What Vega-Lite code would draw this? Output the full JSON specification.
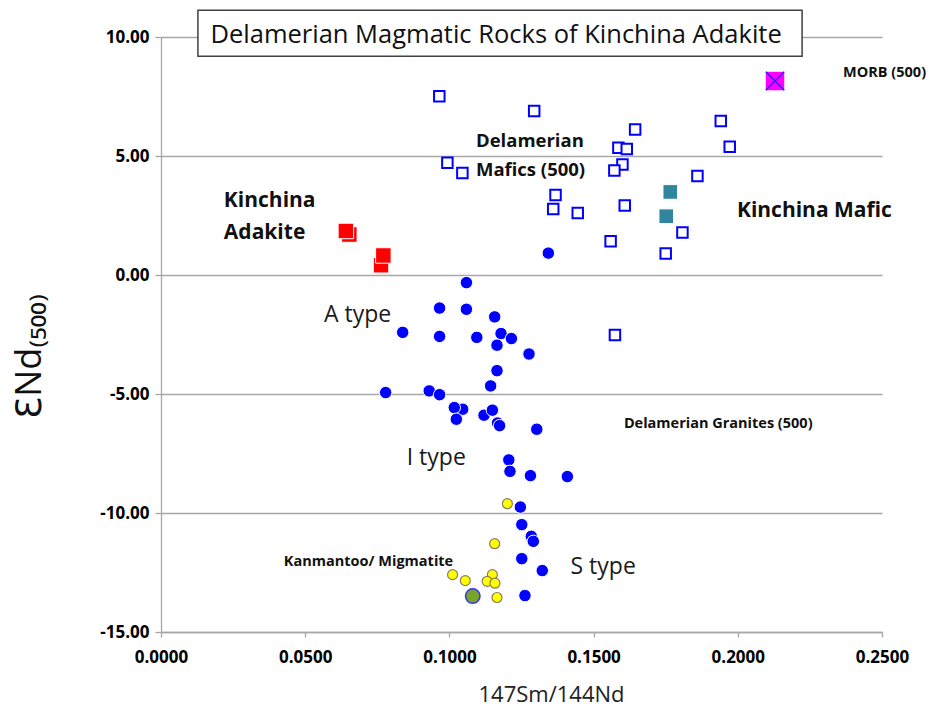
{
  "$schema": "https://vega.github.io/schema/vega-lite/v6.json",
  "width": 721,
  "height": 595,
  "autosize": {"type": "none"},
  "padding": {"left": 161, "top": 37, "right": 51, "bottom": 81},
  "background": "white",
  "config": {"view": {"stroke": null}},
  "datasets": {
    "pts": [
      {"group": "Kanmantoo", "x": 0.1201, "y": -9.61},
      {"group": "Kanmantoo", "x": 0.1157, "y": -11.29},
      {"group": "Kanmantoo", "x": 0.1011, "y": -12.59},
      {"group": "Kanmantoo", "x": 0.1055, "y": -12.84},
      {"group": "Kanmantoo", "x": 0.1149, "y": -12.59},
      {"group": "Kanmantoo", "x": 0.1131, "y": -12.87},
      {"group": "Kanmantoo", "x": 0.1158, "y": -12.95},
      {"group": "Kanmantoo", "x": 0.1165, "y": -13.55},
      {"group": "Granite", "x": 0.1343, "y": 0.92},
      {"group": "Granite", "x": 0.1059, "y": -0.32},
      {"group": "Granite", "x": 0.0966, "y": -1.39},
      {"group": "Granite", "x": 0.1059, "y": -1.44},
      {"group": "Granite", "x": 0.1157, "y": -1.76},
      {"group": "Granite", "x": 0.0838, "y": -2.41},
      {"group": "Granite", "x": 0.0966, "y": -2.58},
      {"group": "Granite", "x": 0.1095, "y": -2.62},
      {"group": "Granite", "x": 0.1179, "y": -2.46},
      {"group": "Granite", "x": 0.1215, "y": -2.67},
      {"group": "Granite", "x": 0.1165, "y": -2.95},
      {"group": "Granite", "x": 0.1276, "y": -3.32},
      {"group": "Granite", "x": 0.1165, "y": -4.02},
      {"group": "Granite", "x": 0.1143, "y": -4.66},
      {"group": "Granite", "x": 0.0779, "y": -4.94},
      {"group": "Granite", "x": 0.0930, "y": -4.87},
      {"group": "Granite", "x": 0.0966, "y": -5.03},
      {"group": "Granite", "x": 0.1046, "y": -5.64},
      {"group": "Granite", "x": 0.1017, "y": -5.57},
      {"group": "Granite", "x": 0.1024, "y": -6.06},
      {"group": "Granite", "x": 0.1120, "y": -5.89},
      {"group": "Granite", "x": 0.1149, "y": -5.68},
      {"group": "Granite", "x": 0.1167, "y": -6.22},
      {"group": "Granite", "x": 0.1174, "y": -6.33},
      {"group": "Granite", "x": 0.1303, "y": -6.48},
      {"group": "Granite", "x": 0.1206, "y": -7.77},
      {"group": "Granite", "x": 0.1210, "y": -8.25},
      {"group": "Granite", "x": 0.1281, "y": -8.43},
      {"group": "Granite", "x": 0.1409, "y": -8.47},
      {"group": "Granite", "x": 0.1246, "y": -9.75},
      {"group": "Granite", "x": 0.1251, "y": -10.49},
      {"group": "Granite", "x": 0.1284, "y": -10.98},
      {"group": "Granite", "x": 0.1291, "y": -11.19},
      {"group": "Granite", "x": 0.1251, "y": -11.92},
      {"group": "Granite", "x": 0.1322, "y": -12.42},
      {"group": "Granite", "x": 0.1262, "y": -13.47},
      {"group": "Green", "x": 0.1081, "y": -13.49},
      {"group": "Mafics", "x": 0.0965, "y": 7.51},
      {"group": "Mafics", "x": 0.1294, "y": 6.89},
      {"group": "Mafics", "x": 0.0993, "y": 4.72},
      {"group": "Mafics", "x": 0.1045, "y": 4.29},
      {"group": "Mafics", "x": 0.1644, "y": 6.11},
      {"group": "Mafics", "x": 0.1586, "y": 5.35},
      {"group": "Mafics", "x": 0.1615, "y": 5.29},
      {"group": "Mafics", "x": 0.1600, "y": 4.64},
      {"group": "Mafics", "x": 0.1572, "y": 4.39},
      {"group": "Mafics", "x": 0.1368, "y": 3.36},
      {"group": "Mafics", "x": 0.1360, "y": 2.77},
      {"group": "Mafics", "x": 0.1445, "y": 2.61},
      {"group": "Mafics", "x": 0.1608, "y": 2.92},
      {"group": "Mafics", "x": 0.1559, "y": 1.42},
      {"group": "Mafics", "x": 0.1750, "y": 0.90},
      {"group": "Mafics", "x": 0.1808, "y": 1.79},
      {"group": "Mafics", "x": 0.1941, "y": 6.47},
      {"group": "Mafics", "x": 0.1972, "y": 5.39},
      {"group": "Mafics", "x": 0.1860, "y": 4.16},
      {"group": "Mafics", "x": 0.1574, "y": -2.52},
      {"group": "Adakite", "x": 0.0653, "y": 1.70},
      {"group": "Adakite", "x": 0.0641, "y": 1.85},
      {"group": "Adakite", "x": 0.0763, "y": 0.41},
      {"group": "Adakite", "x": 0.0771, "y": 0.82},
      {"group": "KMafic", "x": 0.1766, "y": 3.49},
      {"group": "KMafic", "x": 0.1752, "y": 2.47},
      {"group": "MORB", "x": 0.2129, "y": 8.15}
    ],
    "labels": [
      {"kind": "big", "label": "Kinchina", "x": 0.0218, "y": 2.84},
      {"kind": "big", "label": "Adakite", "x": 0.0218, "y": 1.50},
      {"kind": "big", "label": "Kinchina Mafic", "x": 0.1997, "y": 2.42},
      {"kind": "mid", "label": "Delamerian", "x": 0.1092, "y": 5.36},
      {"kind": "mid", "label": "Mafics (500)", "x": 0.1092, "y": 4.14},
      {"kind": "small", "label": "MORB (500)", "x": 0.2365, "y": 8.30},
      {"kind": "small", "label": "Delamerian Granites (500)", "x": 0.1605, "y": -6.44},
      {"kind": "small", "label": "Kanmantoo/ Migmatite", "x": 0.0426, "y": -12.24},
      {"kind": "type", "label": "A type", "x": 0.0565, "y": -1.97},
      {"kind": "type", "label": "I type", "x": 0.0852, "y": -7.99},
      {"kind": "type", "label": "S type", "x": 0.1420, "y": -12.55},
      {"kind": "title", "label": "Delamerian Magmatic Rocks of Kinchina Adakite", "x": 0.1162, "y": 9.75}
    ],
    "box": [
      {"x": 0.0128, "x2": 0.2223, "y": 9.19, "y2": 11.12}
    ]
  },
  "encoding": {
    "x": {
      "field": "x", "type": "quantitative",
      "scale": {"domain": [0, 0.25], "nice": false, "zero": false},
      "axis": {
        "title": "147Sm/144Nd",
        "values": [0, 0.05, 0.1, 0.15, 0.2, 0.25],
        "format": ".4f",
        "grid": false,
        "domainColor": "#a6a6a6", "domainWidth": 1.3,
        "tickColor": "#a6a6a6", "tickWidth": 1.3, "tickSize": 5,
        "labelFont": "Open Sans", "labelFontSize": 17, "labelFontWeight": "bold",
        "labelColor": "black", "labelPadding": 12, "labelFlush": false,
        "titleFont": "Open Sans", "titleFontSize": 22, "titleFontWeight": "normal",
        "titleColor": "#222222", "titleX": 390, "titleY": 69, "titleBaseline": "alphabetic"
      }
    },
    "y": {
      "field": "y", "type": "quantitative",
      "scale": {"domain": [-15, 10], "nice": false, "zero": false},
      "axis": {
        "title": "ƐNd₍₅₀₀₎",
        "values": [-15, -10, -5, 0, 5, 10],
        "labelExpr": "replace(format(datum.value, '.2f'), '\u2212', '-')",
        "grid": true, "gridColor": "#a6a6a6", "gridWidth": 1.3,
        "domainColor": "#a6a6a6", "domainWidth": 1.3,
        "tickColor": "#a6a6a6", "tickWidth": 1.3, "tickSize": 6,
        "labelFont": "Open Sans", "labelFontSize": 17, "labelFontWeight": "bold",
        "labelColor": "black", "labelPadding": 6,
        "titleFont": "Open Sans, DejaVu Sans", "titleFontSize": 36, "titleFontWeight": "normal",
        "titleColor": "#111111", "titleAngle": -90, "titleX": -121, "titleY": 319,
        "titleAlign": "center", "titleBaseline": "alphabetic"
      }
    }
  },
  "layer": [
    {
      "data": {"name": "box"},
      "mark": {"type": "rect", "fill": "white", "stroke": "#404040", "strokeWidth": 1.5},
      "encoding": {"x2": {"field": "x2"}, "y2": {"field": "y2"}}
    },
    {
      "data": {"name": "labels"},
      "transform": [{"filter": "datum.kind == 'title'"}],
      "mark": {"type": "text", "font": "Open Sans", "fontSize": 25.5, "align": "center", "baseline": "alphabetic", "color": "#111111"},
      "encoding": {"text": {"field": "label"}}
    },
    {
      "data": {"name": "pts"},
      "transform": [{"filter": "datum.group == 'Kanmantoo'"}],
      "mark": {"type": "point", "shape": "circle", "filled": true, "fill": "#ffff00", "stroke": "#8a7f5a", "strokeWidth": 1.2, "size": 100, "opacity": 1}
    },
    {
      "data": {"name": "pts"},
      "transform": [{"filter": "datum.group == 'Granite'"}],
      "mark": {"type": "point", "shape": "circle", "filled": true, "fill": "#0000ff", "stroke": "white", "strokeWidth": 1, "size": 155, "opacity": 1}
    },
    {
      "data": {"name": "pts"},
      "transform": [{"filter": "datum.group == 'Green'"}],
      "mark": {"type": "point", "shape": "circle", "filled": true, "fill": "#77a52a", "stroke": "#3333ff", "strokeWidth": 1.5, "size": 210, "opacity": 1}
    },
    {
      "data": {"name": "pts"},
      "transform": [{"filter": "datum.group == 'Mafics'"}],
      "mark": {"type": "point", "shape": "square", "filled": true, "fill": "white", "stroke": "#0000ff", "strokeWidth": 2, "size": 110, "opacity": 1}
    },
    {
      "data": {"name": "pts"},
      "transform": [{"filter": "datum.group == 'Adakite'"}],
      "mark": {"type": "point", "shape": "square", "filled": true, "fill": "#ff0000", "stroke": "white", "strokeWidth": 1, "size": 240, "opacity": 1}
    },
    {
      "data": {"name": "pts"},
      "transform": [{"filter": "datum.group == 'KMafic'"}],
      "mark": {"type": "point", "shape": "square", "filled": true, "fill": "#31859c", "stroke": "white", "strokeWidth": 1, "size": 215, "opacity": 1}
    },
    {
      "data": {"name": "pts"},
      "transform": [{"filter": "datum.group == 'MORB'"}],
      "mark": {"type": "point", "shape": "square", "filled": true, "fill": "#ff00ff", "size": 340, "opacity": 1}
    },
    {
      "data": {"name": "pts"},
      "transform": [{"filter": "datum.group == 'MORB'"}],
      "mark": {"type": "point", "shape": "M-1,-1L1,1M-1,1L1,-1", "filled": false, "stroke": "#2020ff", "strokeWidth": 1.3, "size": 340, "opacity": 1}
    },
    {
      "data": {"name": "labels"},
      "transform": [{"filter": "datum.kind == 'big'"}],
      "mark": {"type": "text", "font": "Open Sans", "fontSize": 21, "fontWeight": "bold", "align": "left", "baseline": "alphabetic", "color": "#111111"},
      "encoding": {"text": {"field": "label"}}
    },
    {
      "data": {"name": "labels"},
      "transform": [{"filter": "datum.kind == 'mid'"}],
      "mark": {"type": "text", "font": "Open Sans", "fontSize": 18.5, "fontWeight": "bold", "align": "left", "baseline": "alphabetic", "color": "#111111"},
      "encoding": {"text": {"field": "label"}}
    },
    {
      "data": {"name": "labels"},
      "transform": [{"filter": "datum.kind == 'small'"}],
      "mark": {"type": "text", "font": "Open Sans", "fontSize": 14.5, "fontWeight": "bold", "align": "left", "baseline": "alphabetic", "color": "#111111"},
      "encoding": {"text": {"field": "label"}}
    },
    {
      "data": {"name": "labels"},
      "transform": [{"filter": "datum.kind == 'type'"}],
      "mark": {"type": "text", "font": "Open Sans", "fontSize": 23, "align": "left", "baseline": "alphabetic", "color": "#1a1a1a"},
      "encoding": {"text": {"field": "label"}}
    }
  ]
}
